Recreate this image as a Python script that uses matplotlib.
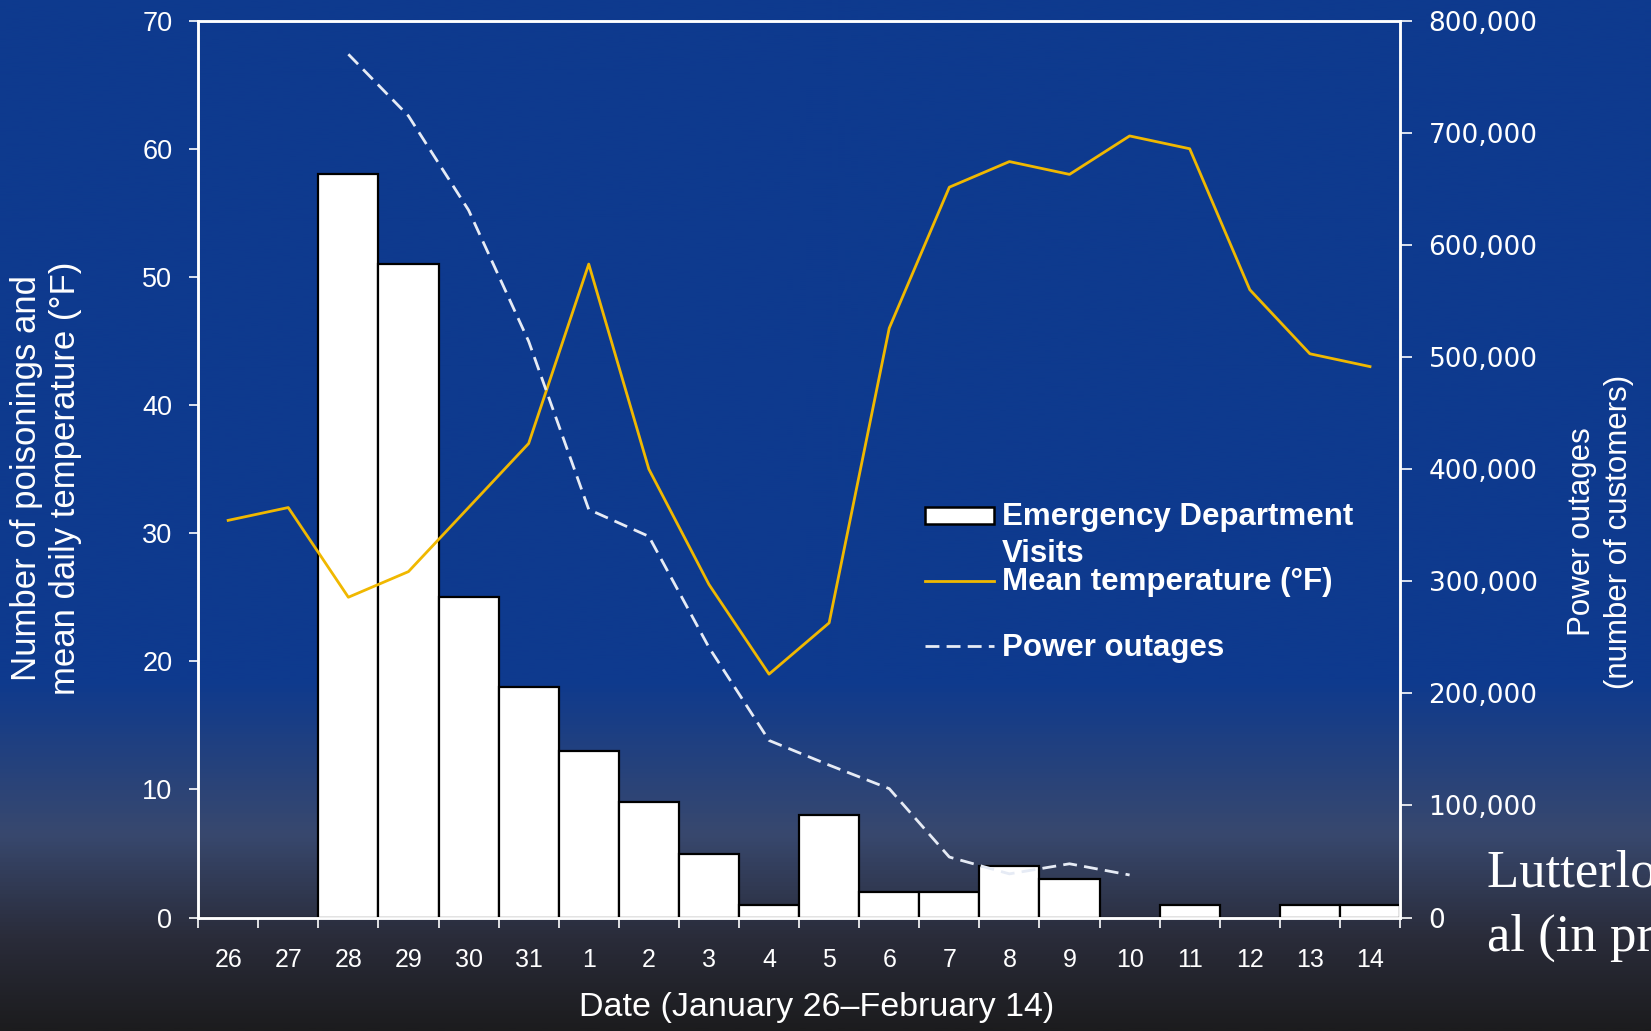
import matplotlib
matplotlib.use("Agg")
import matplotlib.pyplot as plt
import numpy as np
from matplotlib.colors import LinearSegmentedColormap
from matplotlib.ticker import FuncFormatter, MultipleLocator
from matplotlib.patches import Rectangle
from matplotlib.lines import Line2D

# data
dates = ["26", "27", "28", "29", "30", "31", "1", "2", "3", "4",
         "5", "6", "7", "8", "9", "10", "11", "12", "13", "14"]
ed_visits = [0, 0, 58, 51, 25, 18, 13, 9, 5, 1, 8, 2, 2, 4, 3, 0, 1, 0, 1, 1]
mean_temp = [31, 32, 25, 27, 32, 37, 51, 35, 26, 19,
             23, 46, 57, 59, 58, 61, 60, 49, 44, 43]
# power outages start on Jan 28 and end on Feb 10
outage_dates = ["28", "29", "30", "31", "1", "2", "3", "4", "5", "6", "7", "8", "9", "10"]
outages = [770000, 715000, 631000, 514000, 364000, 340000, 241000,
           158000, 136000, 115000, 54000, 39000, 48000, 38000]

BLUE = (14/255.0, 58/255.0, 142/255.0)
GOLD = (240/255.0, 184/255.0, 0/255.0)
OUT_C = (0.9, 0.92, 0.96)
plt.rcParams['font.family'] = ["Liberation Sans", "DejaVu Sans"]

fig = plt.figure(figsize=(16.51, 10.31), dpi=100)

# slide background: flat blue fading to dark grey at the bottom
bg = fig.add_axes([0, 0, 1, 1], zorder=-10)
bg_cmap = LinearSegmentedColormap.from_list("bg", [
    (0.0, BLUE), (0.66, BLUE),
    (0.81, (56/255.0, 72/255.0, 110/255.0)),
    (0.91, (42/255.0, 44/255.0, 58/255.0)),
    (1.0, (28/255.0, 28/255.0, 30/255.0))])
bg.imshow(np.linspace(0, 1, 512).reshape(-1, 1), aspect="auto", cmap=bg_cmap,
          extent=[0, 1, 0, 1], origin="upper")
bg.axis("off")

ax1 = fig.add_axes([0.120, 0.110, 0.728, 0.870])
ax1.patch.set_alpha(0)
x = np.arange(len(dates))

ax1.bar(x, ed_visits, width=1.0, color="white", edgecolor="black", linewidth=1.6, zorder=2)
ax1.plot(x, mean_temp, color=GOLD, linewidth=2, zorder=3)

ax2 = ax1.twinx()
ox = [dates.index(d) for d in outage_dates]
ax2.plot(ox, outages, color=OUT_C, linewidth=2, linestyle=(0, (5, 2.6)), zorder=3)

ax1.set_xlim(-0.5, len(dates) - 0.5)
ax1.set_ylim(0, 70)
ax2.set_ylim(0, 800000)
ax1.yaxis.set_major_locator(MultipleLocator(10))
ax2.yaxis.set_major_locator(MultipleLocator(100000))
ax2.yaxis.set_major_formatter(FuncFormatter(lambda v, p: "{:,.0f}".format(v)))

# x ticks on the bar edges, labels centred under each day
ax1.set_xticks(np.arange(len(dates) + 1) - 0.5)
ax1.set_xticklabels([])
ax1.set_xticks(x, minor=True)
ax1.set_xticklabels(dates, minor=True, fontsize=18)
ax1.tick_params(axis="x", which="major", direction="out", length=7, width=1.2, colors="white")
ax1.tick_params(axis="x", which="minor", length=0, pad=22, colors="white")
ax1.tick_params(axis="y", direction="out", length=6.5, width=1.2, colors="white",
                labelsize=19.5, pad=12)
ax2.tick_params(axis="y", direction="out", length=8.5, width=1.2, colors="white",
                pad=12)
for t in ax2.get_yticklabels():
    t.set_family(["DejaVu Sans"])
    t.set_fontsize(19)

for a in (ax1, ax2):
    for s in a.spines.values():
        s.set_color("white")
        s.set_linewidth(1.8)

ax1.set_xlabel("Date (January 26\u2013February 14)", color="white", fontsize=24.5)
ax1.xaxis.set_label_coords(0.515, -0.083)
ax1.set_ylabel("Number of poisonings and\nmean daily temperature (°F)", color="white",
               fontsize=25)
ax1.yaxis.set_label_coords(-0.097, 0.49)
ax2.set_ylabel("Power outages\n(number of customers)", color="white", fontsize=22.5,
               linespacing=1.3)
ax2.yaxis.set_label_coords(1.139, 0.43)

# legend drawn by hand to keep the slide's row spacing
tr = ax1.transAxes
ax1.add_patch(Rectangle((0.6048, 0.4392), 0.0574, 0.019, transform=tr, facecolor="white",
                        edgecolor="black", linewidth=1.8, clip_on=False, zorder=5))
ax1.add_line(Line2D([0.6048, 0.6622], [0.3757, 0.3757], transform=tr, color=GOLD,
                    linewidth=2, clip_on=False, zorder=5))
ax1.add_line(Line2D([0.6048, 0.6622], [0.3032, 0.3032], transform=tr, color=OUT_C,
                    linewidth=2, linestyle=(0, (5, 2.6)), clip_on=False, zorder=5))
leg_kw = dict(transform=tr, color="white", fontsize=22.5, fontweight="bold",
              va="baseline", ha="left", zorder=6)
ax1.text(0.6689, 0.4381, "Emergency Department", **leg_kw)
ax1.text(0.6689, 0.3969, "Visits", **leg_kw)
ax1.text(0.6689, 0.3657, "Mean temperature (°F)", **leg_kw)
ax1.text(0.6689, 0.2921, "Power outages", **leg_kw)

serif = ["Liberation Serif", "DejaVu Serif"]
fig.text(0.9006, 0.1397, "Lutterloh et", color="white", fontsize=38, family=serif,
         va="baseline")
fig.text(0.9006, 0.0776, "al (in press)", color="white", fontsize=38, family=serif,
         va="baseline")

fig.savefig("out.png", dpi=100)
